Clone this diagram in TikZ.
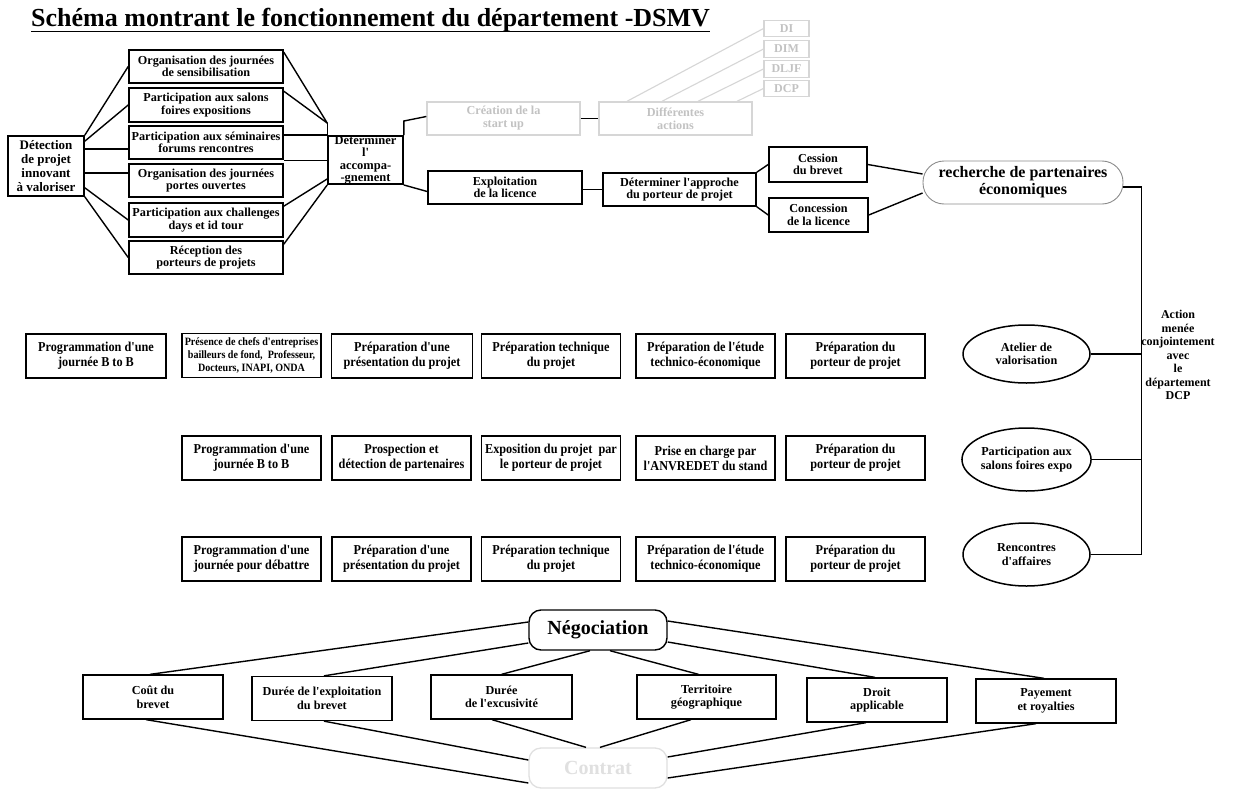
\documentclass[tikz,border=0pt]{standalone}
\usepackage{fontspec}
\setmainfont{Liberation Serif}[Ligatures=TeXOff]
\newfontfamily\narrowserif[FakeStretch=0.9]{Liberation Serif}
\usetikzlibrary{shapes.geometric,calc}

\newcommand\bfsz[2]{\fontsize{#1}{#2}\selectfont\bfseries}

\definecolor{faint}{gray}{0.76}
\definecolor{fainter}{gray}{0.84}
\definecolor{palest}{gray}{0.88}
\definecolor{ovalrim}{gray}{0.55}

\tikzset{
  wh/.style 2 args={minimum width=#1pt, minimum height=#2pt},
  box/.style={draw, line width=1.6pt, inner sep=0pt, align=center, font=\bfsz{12.2}{12.5}},
  ghostbox/.style={draw=fainter, line width=1.4pt, inner sep=0pt, align=center, text=faint, font=\bfsz{12.2}{13}},
  tag/.style={draw=fainter, line width=1.1pt, inner sep=0pt, align=center, text=faint,
    font=\bfsz{12}{12}, minimum width=45pt, minimum height=16.5pt},
  rowbox/.style={draw, line width=1.5pt, inner sep=0pt, align=center,
    minimum width=139pt, minimum height=44pt, font=\narrowserif\bfsz{13.6}{15}},
  termbox/.style={draw, line width=1.3pt, inner sep=0pt, align=center,
    minimum width=140pt, minimum height=44pt, font=\bfsz{12.2}{13.5}},
  oval/.style={ellipse, draw, line width=1.5pt, inner sep=0pt, minimum width=127pt,
    align=center, font=\bfsz{12.2}{13.5}},
  link/.style={line width=1.4pt},
  ghostlink/.style={line width=1.1pt, draw=fainter},
}

\begin{document}
\begin{tikzpicture}[x=1pt,y=-1pt]
\fill[white] (0,0) rectangle (1233,789);
\useasboundingbox (0,0) rectangle (1233,789);

% title
\node[anchor=base west, inner sep=0pt, font=\bfsz{26}{28}] (title) at (31,27)
  {Schéma montrant le fonctionnement du département -DSMV};
\draw[line width=1.6pt] ([yshift=-4.5pt]title.base west) -- ([yshift=-4.5pt]title.base east);

% detection and outreach actions
\node[box, wh={76}{60}, font=\bfsz{13}{14}] (det) at (46,166)
  {Détection\\de projet\\innovant\\à valoriser};
\node[box, wh={154}{33}] (o1) at (206,66.5) {Organisation des journées\\de sensibilisation};
\node[box, wh={154}{34}] (o2) at (206,105) {Participation aux salons\\foires expositions};
\node[box, wh={154}{33}] (o3) at (206,142.5) {Participation aux séminaires\\forums rencontres};
\node[box, wh={154}{33}] (o4) at (206,180.5) {Organisation des journées\\portes ouvertes};
\node[box, wh={154}{34}] (o5) at (206,220) {Participation aux challenges\\days et id tour};
\node[box, wh={154}{33}] (o6) at (206,257.5) {Réception des\\porteurs de projets};
\node[box, wh={75}{46}, font=\bfsz{12.5}{12.3}] (acc) at (365.5,160)
  {Déterminer\\l'\\accompa-\\-gnement};

\draw[link] (det.north east) -- (o1.west);
\draw[link] ([yshift=-6pt]det.north east) -- (o2.west);
\coordinate (h3) at ([yshift=-6.5pt]o3.west);
\draw[link] (det.east |- h3) -- (h3);
\coordinate (h4) at ([yshift=7.5pt]o4.west);
\draw[link] (det.east |- h4) -- (h4);
\draw[link] ([yshift=9pt]det.south east) -- (o5.west);
\draw[link] (det.south east) -- (o6.west);

\coordinate (j0) at ([yshift=12pt]acc.north west);
\draw[link] ([yshift=-3pt]o1.north east) -- (j0);
\draw[link] ([yshift=-4pt]o2.north east) -- (j0);
\draw[link] (j0) -- (acc.north west);
\draw[link] (o3.east |- acc.north west) -- (acc.north west);
\coordinate (h5) at ([yshift=3pt]o4.north east);
\draw[link] (h5) -- (acc.west |- h5);
\draw[link] ([yshift=-4pt]o5.north east) -- ([yshift=6pt]acc.south west);
\draw[link] ([yshift=-4pt]o6.north east) -- (acc.south west);

% start-up branch (faded)
\node[ghostbox, wh={153}{33}] (cre) at (503.5,118.5) {Création de la\\start up};
\node[ghostbox, wh={153}{33}] (dif) at (675.5,118.5) {Différentes\\actions};
\node[tag] (di) at (786.5,28.5) {DI};
\node[tag] (dim) at (786.5,49) {DIM};
\node[tag] (dljf) at (786.5,69) {DLJF};
\node[tag] (dcp) at (786.5,88.5) {DCP};
\draw[ghostlink] ([xshift=-48.5pt]dif.north) -- (di.west);
\draw[ghostlink] ([xshift=-13.5pt]dif.north) -- (dim.west);
\draw[ghostlink] ([xshift=22.5pt]dif.north) -- (dljf.west);
\draw[ghostlink] ([xshift=61.5pt]dif.north) -- (dcp.west);

\coordinate (j1) at ([yshift=14pt]acc.north east);
\draw[link] (acc.north east) -- (j1) -- ([yshift=2pt]cre.west);
\draw[link] (cre.east) -- (dif.west);

% licence branch
\node[box, wh={154}{33}] (exp) at (505,187.5) {Exploitation\\de la licence};
\node[box, wh={153}{33}] (app) at (679.5,189.5) {Déterminer l'approche\\du porteur de projet};
\node[box, wh={98}{35}] (ces) at (818,164.5) {Cession\\du brevet};
\node[box, wh={99}{34}] (con) at (818.5,215) {Concession\\de la licence};
\node[draw=ovalrim, line width=0.9pt, rounded corners=21pt, wh={200}{43}, inner sep=0pt,
  align=center, font=\bfsz{16}{17}] (rech) at (1023,182.5)
  {recherche de partenaires\\économiques};

\draw[link] (acc.south east) -- ([yshift=-4pt]exp.west);
\draw[link] (app.west -| exp.east) -- (app.west);
\draw[link] (app.north east) -- (ces.west);
\draw[link] (app.south east) -- (con.west);
\draw[link] (ces.east) -- ([yshift=8.5pt]rech.west);
\draw[link] (con.east) -- ([yshift=-10.5pt]rech.west);

% partner search actions
\node[oval, minimum height=58pt] (atel) at (1026.5,354) {Atelier de\\valorisation};
\node[oval, minimum height=63pt] (part) at (1026.5,459.5) {Participation aux\\salons foires expo};
\node[oval, minimum height=63pt] (renc) at (1026.5,554.5) {Rencontres\\d'affaires};

\coordinate (bus) at ([xshift=18pt,yshift=-4.5pt]rech.east);
\draw[link] ([yshift=-4.5pt]rech.east) -- (bus) -- (bus |- renc.east) -- (renc.east);
\draw[link] (atel.east) -- (atel.east -| bus);
\draw[link] (part.east) -- (part.east -| bus);
\node[align=center, inner sep=0pt, font=\bfsz{12}{13.5}] (note) at (1178,355)
  {Action\\menée\\conjointement\\avec\\le\\département\\DCP};

% workshop steps
\node[rowbox, minimum width=140pt] (a1) at (96,356) {Programmation d'une\\journée B to B};
\node[rowbox, font=\narrowserif\bfsz{11.2}{13.3}] (a2) at (251.5,355.5)
  {Présence de chefs d'entreprises\\bailleurs de fond,~ Professeur,\\Docteurs, INAPI, ONDA};
\node[rowbox, minimum width=141pt] (a3) at (402,356) {Préparation d'une\\présentation du projet};
\node[rowbox] (a4) at (551,356) {Préparation technique\\du projet};
\node[rowbox] (a5) at (705.5,356) {Préparation de l'étude\\technico-économique};
\node[rowbox] (a6) at (855.5,356) {Préparation du\\porteur de projet};

% fair steps
\node[rowbox] (p1) at (251.5,458) {Programmation d'une\\journée B to B};
\node[rowbox] (p2) at (401.5,458) {Prospection et\\détection de partenaires};
\node[rowbox] (p3) at (551,458) {Exposition du projet~ par\\le porteur de projet};
\node[rowbox] (p4) at (705.5,458) {Prise en charge par\\l'ANVREDET du stand};
\node[rowbox] (p5) at (855.5,458) {Préparation du\\porteur de projet};

% business meeting steps
\node[rowbox] (r1) at (251.5,559) {Programmation d'une\\journée pour débattre};
\node[rowbox] (r2) at (401.5,559) {Préparation d'une\\présentation du projet};
\node[rowbox] (r3) at (551,559) {Préparation technique\\du projet};
\node[rowbox] (r4) at (705.5,559) {Préparation de l'étude\\technico-économique};
\node[rowbox] (r5) at (855.5,559) {Préparation du\\porteur de projet};

% negotiation and contract terms
\node[draw, line width=1.4pt, rounded corners=12pt, wh={138}{40}, inner sep=0pt,
  font=\bfsz{20}{22}] (neg) at (598,630) {Négociation};
\node[draw=palest, line width=1.3pt, rounded corners=12pt, wh={138}{40}, inner sep=0pt,
  text=palest, font=\bfsz{20}{22}] (ctr) at (598,768) {Contrat};

\node[termbox] (b1) at (153,697) {Coût du\\brevet};
\node[termbox] (b2) at (322,698.5) {Durée de l'exploitation\\du brevet};
\node[termbox, minimum width=141pt] (b3) at (501.5,697) {Durée\\de l'excusivité};
\node[termbox, minimum width=139pt] (b4) at (706.5,697) {Territoire\\géographique};
\node[termbox] (b5) at (877,700) {Droit\\applicable};
\node[termbox] (b6) at (1046,701) {Payement\\et royalties};

\draw[link] ([yshift=8pt]neg.west) -- ([xshift=-3pt]b1.north);
\draw[link] ([yshift=-13pt]neg.west) -- ([xshift=2pt]b2.north);
\draw[link] ([xshift=-8pt]neg.south) -- (b3.north);
\draw[link] ([xshift=12pt]neg.south) -- ([xshift=-8pt]b4.north);
\draw[link] ([yshift=-12pt]neg.east) -- ([xshift=-2pt]b5.north);
\draw[link] ([yshift=9pt]neg.east) -- ([xshift=-2pt]b6.north);

\draw[link] ([xshift=-7pt]b1.south) -- ([yshift=-15pt]ctr.west);
\draw[link] ([xshift=2pt]b2.south) -- ([yshift=8pt]ctr.west);
\draw[link] ([xshift=-9.5pt]b3.south) -- ([xshift=-12pt]ctr.north);
\draw[link] ([xshift=-15.5pt]b4.south) -- ([xshift=2pt]ctr.north);
\draw[link] ([xshift=-11pt]b5.south) -- ([yshift=11pt]ctr.east);
\draw[link] ([xshift=-10pt]b6.south) -- ([yshift=-10pt]ctr.east);
\end{tikzpicture}
\end{document}
